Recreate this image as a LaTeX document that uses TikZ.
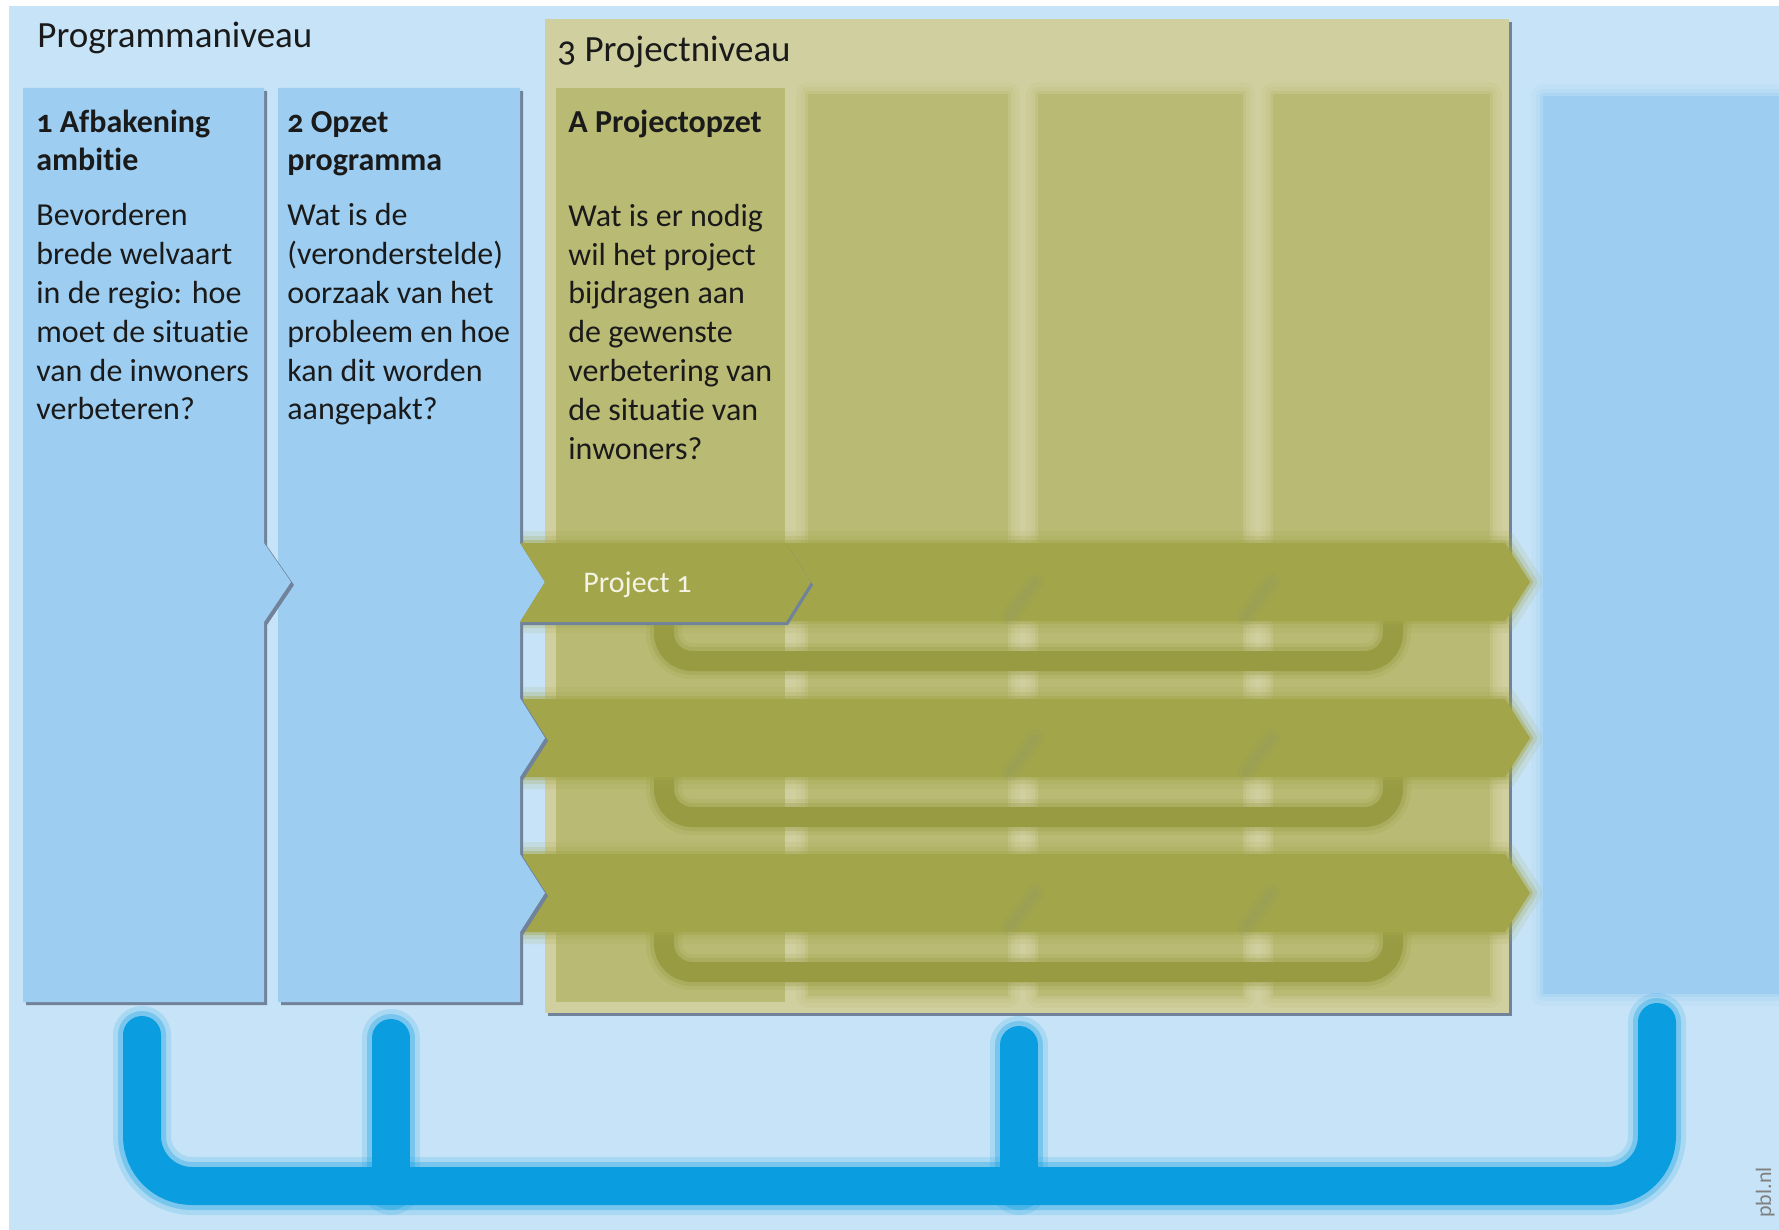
\documentclass[tikz,border=0pt]{standalone}
\usepackage{fontspec}
\setmainfont[Numbers=OldStyle,RawFeature={-liga;-clig;-calt;-dlig}]{Carlito}
\usepackage{tikz}

\definecolor{achtergrond}{HTML}{C6E3F7}
\definecolor{kolomblauw}{HTML}{9DCEF2}
\definecolor{schaduw}{HTML}{71839A}
\definecolor{olijflicht}{HTML}{D0CF9F}
\definecolor{olijf}{HTML}{B9BA73}
\definecolor{olijfdonker}{HTML}{A2A54A}
\definecolor{lus}{HTML}{989B42}
\definecolor{lijnblauw}{HTML}{0A9EE0}
\definecolor{tekstkleur}{HTML}{1A1A1A}
\definecolor{projecttekst}{HTML}{F4F4E6}

\def\kolomeen{(23,88) -- (264,88) -- (264,543) -- (291,582) -- (264,622) -- (264,1002) -- (23,1002) -- cycle}
\def\kolomtwee{(278,88) -- (520,88) -- (520,543) -- (545,582) -- (520,622) -- (520,698) -- (545,738) -- (520,777) -- (520,854) -- (545,893) -- (520,932) -- (520,1002) -- (278,1002) -- cycle}
\def\projectkader{(545,19) rectangle (1509,1013)}
\def\projecteen{(520,543) -- (786,543) -- (811,582) -- (786,622) -- (520,622) -- (545,582) -- cycle}

\begin{document}
\begin{tikzpicture}[x=0.5pt,y=-0.5pt,
    kop/.style={anchor=base west,inner sep=0pt,align=left,text=tekstkleur,font=\fontsize{16}{19.4}\selectfont\bfseries},
    tekst/.style={anchor=base west,inner sep=0pt,align=left,text=tekstkleur,font=\fontsize{16}{19.4}\selectfont},
    niveau/.style={anchor=base west,inner sep=0pt,text=tekstkleur,font=\fontsize{18.5}{22}\selectfont},
    wazig/.style={fill=#1,
      preaction={draw=#1,line width=12pt,opacity=.12,line join=round},
      preaction={draw=#1,line width=7pt,opacity=.22,line join=round},
      preaction={draw=#1,line width=3pt,opacity=.4,line join=round}},
    blauwlijn/.style={draw=lijnblauw,line width=19pt,line cap=round,rounded corners=25pt,
      preaction={draw=lijnblauw,line width=29pt,opacity=.15,line cap=round},
      preaction={draw=lijnblauw,line width=24pt,opacity=.3,line cap=round}},
    luslijn/.style={draw=lus,line width=10pt,rounded corners=14pt,
      preaction={draw=lus,line width=18pt,opacity=.15},
      preaction={draw=lus,line width=14pt,opacity=.3}}]
  \useasboundingbox (0,0) rectangle (1779,1230);
  % achtergrond
  \fill[white] (0,0) rectangle (1779,1230);
  \fill[achtergrond] (9,6) rectangle (1779,1230);
  % projectniveau
  \fill[schaduw,shift={(3,3)}] \projectkader;
  \fill[olijflicht] \projectkader;
  \foreach \xa/\xb in {808/1008,1038/1243,1273/1490}
    \path[wazig=olijf] (\xa,94) rectangle (\xb,996);
  \fill[olijf] (556,88) rectangle (785,1002);
  \path[wazig=kolomblauw] (1543,96) rectangle (1779,994);
  % lussen onder de projecten
  \foreach \y [count=\i] in {582,738,893} {
    \coordinate (lusin\i) at (664,\y);
    \coordinate (lusuit\i) at (1393,\y);
    \draw[luslijn] (lusin\i) -- ++(0,79) -| (lusuit\i);
  }
  % projecten
  \foreach \y in {582,738,893} {
    \path[wazig=olijfdonker] (520,\y-39) -- (1505,\y-39) -- (1530,\y) -- (1505,\y+39) -- (520,\y+39) -- (545,\y) -- cycle;
    \foreach \xc in {1010,1246} {
      \draw[schaduw,opacity=.06,line width=9pt,line cap=round] (\xc+25,\y) -- (\xc,\y+34);
      \draw[schaduw,opacity=.08,line width=4pt,line cap=round] (\xc+25,\y) -- (\xc,\y+34);
    }
  }
  % programmaniveau
  \fill[schaduw,shift={(3,3)}] \kolomtwee;
  \fill[kolomblauw] \kolomtwee;
  \fill[schaduw,shift={(3,3)}] \kolomeen;
  \fill[kolomblauw] \kolomeen;
  \fill[schaduw,shift={(2,3)}] \projecteen;
  \fill[olijfdonker] \projecteen;
  % verbindingen
  \coordinate (afb) at (142,1035);
  \coordinate (opz) at (391,1038);
  \coordinate (proj) at (1019,1045);
  \coordinate (verv) at (1657,1022);
  \coordinate (basis) at (900,1186);
  \draw[blauwlijn] (afb) |- (basis) -| (verv);
  \draw[blauwlijn] (opz) -- (opz |- basis);
  \draw[blauwlijn] (proj) -- (proj |- basis);
  % teksten
  \node[niveau] (progniveau) at (37,48) {Programmaniveau};
  \node[niveau] (projniveau) at (557,62) {3 Projectniveau};
  \node[kop] (afbkop) at (36,171) {1 Afbakening\\ambitie};
  \node[tekst] (afbtekst) at (36,420) {Bevorderen\\brede welvaart\\in de regio: hoe\\moet de situatie\\van de inwoners\\verbeteren?};
  \node[kop] (opzkop) at (287,171) {2 Opzet\\programma};
  \node[tekst] (opztekst) at (287,420) {Wat is de\\(veronderstelde)\\oorzaak van het\\probleem en hoe\\kan dit worden\\aangepakt?};
  \node[kop] (projkop) at (568,133) {A Projectopzet};
  \node[tekst] (projtekst) at (568,459) {Wat is er nodig\\wil het project\\bijdragen aan\\de gewenste\\verbetering van\\de situatie van\\inwoners?};
  \node[anchor=base west,inner sep=0pt,text=projecttekst,font=\fontsize{15}{18}\selectfont] (project1) at (583,592) {Project 1};
  \node[rotate=90,anchor=base west,inner sep=0pt,text=gray,font=\fontsize{11}{13}\selectfont] (pbl) at (1771,1218) {pbl.nl};
\end{tikzpicture}
\end{document}
